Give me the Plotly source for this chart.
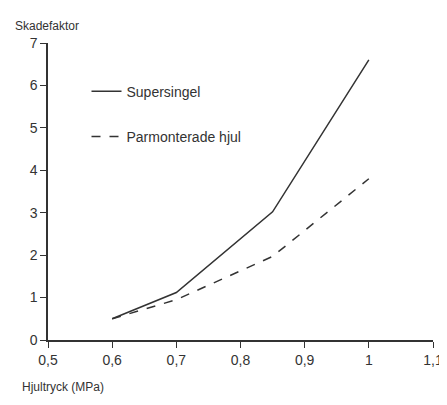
import plotly.graph_objects as go

x_vals = [0.6, 0.7, 0.85, 1.0]
super_vals = [0.5, 1.12, 3.02, 6.6]
parm_vals = [0.5, 0.95, 1.97, 3.8]
x_ticks = [0.5, 0.6, 0.7, 0.8, 0.9, 1.0, 1.1]
x_labels = ["0,5", "0,6", "0,7", "0,8", "0,9", "1", "1,1"]

fig = go.Figure()
fig.add_trace(go.Scatter(x=x_vals, y=super_vals, mode="lines", name="Supersingel",
                         legendgroup="a", line=dict(color="#333", width=1.5)))
fig.add_trace(go.Scatter(x=x_vals, y=parm_vals, mode="lines", name="Parmonterade hjul",
                         legendgroup="b", line=dict(color="#333", width=1.5, dash="dash")))
fig.update_layout(
    width=447, height=405, paper_bgcolor="white", plot_bgcolor="white",
    margin=dict(l=40, r=16, t=35, b=73),
    font=dict(family="Liberation Sans, Arial", size=13, color="#333"),
    legend=dict(x=0.1, y=0.89, xanchor="left", yanchor="top", bgcolor="rgba(0,0,0,0)",
                font=dict(size=14), tracegroupgap=24, traceorder="grouped"),
    xaxis=dict(range=[0.5, 1.1], tickvals=x_ticks, ticktext=x_labels, showgrid=False,
               showline=True, linecolor="#333", linewidth=1.5, ticks="outside",
               ticklen=6, tickcolor="#333", zeroline=False, mirror=False,
               tickfont=dict(size=14)),
    yaxis=dict(range=[0, 7], tickvals=list(range(8)), showgrid=False, showline=True,
               linecolor="#333", linewidth=1.5, ticks="outside", ticklen=6,
               tickcolor="#333", zeroline=False, tickfont=dict(size=14)),
    annotations=[
        dict(text="Skadefaktor", x=0, xref="paper", xanchor="left", y=1, yref="paper",
             yanchor="bottom", yshift=8, xshift=-35, showarrow=False, font=dict(size=12)),
        dict(text="Hjultryck (MPa)", x=0, xref="paper", xanchor="left", y=0, yref="paper",
             yanchor="top", yshift=-38, xshift=-28, showarrow=False, font=dict(size=12)),
    ],
)
fig.write_html("out.html")
